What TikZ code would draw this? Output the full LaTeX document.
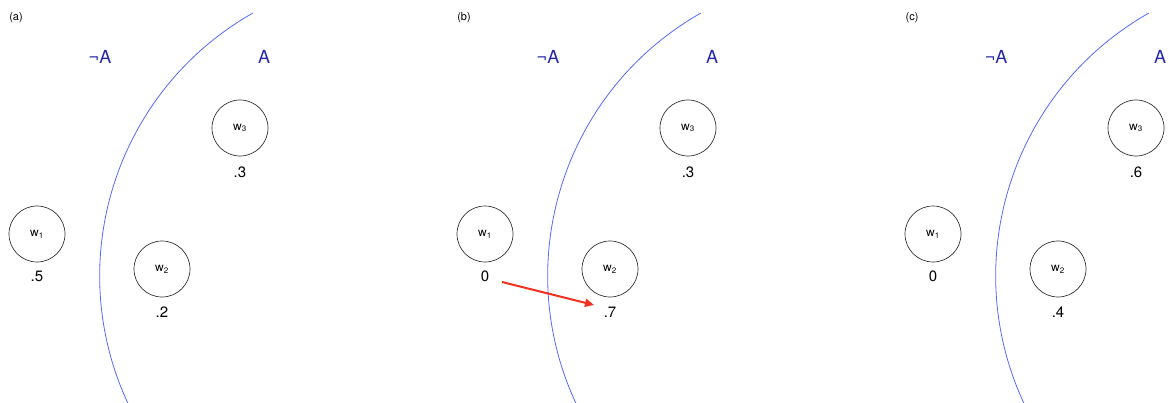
\documentclass[tikz,border=0pt]{standalone}
\usepackage{fontspec}
\setmainfont{TeX Gyre Heros}
\usetikzlibrary{arrows.meta}
\definecolor{arcblue}{RGB}{85,105,255}
\definecolor{labblue}{RGB}{40,40,170}
\definecolor{arrred}{RGB}{240,50,30}
\tikzset{
  world/.style={circle,draw=black!80,line width=0.7pt,minimum size=56pt,inner sep=0pt,font=\fontsize{12}{12}\selectfont},
  prob/.style={font=\fontsize{15}{15}\selectfont,inner sep=0pt},
  setlab/.style={font=\fontsize{18}{18}\selectfont,text=labblue,inner sep=0pt},
  panellab/.style={font=\fontsize{11}{11}\selectfont,inner sep=0pt},
  border/.style={draw=arcblue,line width=0.8pt},
  move/.style={draw=arrred,line width=2pt,-{Triangle[length=9pt,width=8pt]}}
}
\newcommand{\panel}[6]{%
  \begin{scope}[xshift=#2pt]
    \node[panellab] (#1lab) at (16,18) {(#1)};
    \node[setlab] (#1nA) at (100,57) {¬A};
    \node[setlab] (#1A) at (264,57) {A};
    \draw[border] (253,13) arc[start angle=-119.5, end angle=-205, radius=302];
    \node[world] (#1w1) at (37,234) {w\textsubscript{1}};
    \node[world] (#1w2) at (162,269) {w\textsubscript{2}};
    \node[world] (#1w3) at (240,128) {w\textsubscript{3}};
    \node[prob] (#1p1) at (37,276) {#3};
    \node[prob] (#1p2) at (162,312) {#4};
    \node[prob] (#1p3) at (240,172) {#5};
    #6
  \end{scope}}
\begin{document}
\begin{tikzpicture}[x=1pt,y=-1pt]
\useasboundingbox (0,0) rectangle (1169,403);
\panel{a}{0}{.5}{.2}{.3}{}
\panel{b}{448}{0}{.7}{.3}{%
  \coordinate (bs) at (54,282);
  \coordinate (be) at (146,305);
  \draw[move] (bs) -- (be);}
\panel{c}{896}{0}{.4}{.6}{}
\end{tikzpicture}
\end{document}
